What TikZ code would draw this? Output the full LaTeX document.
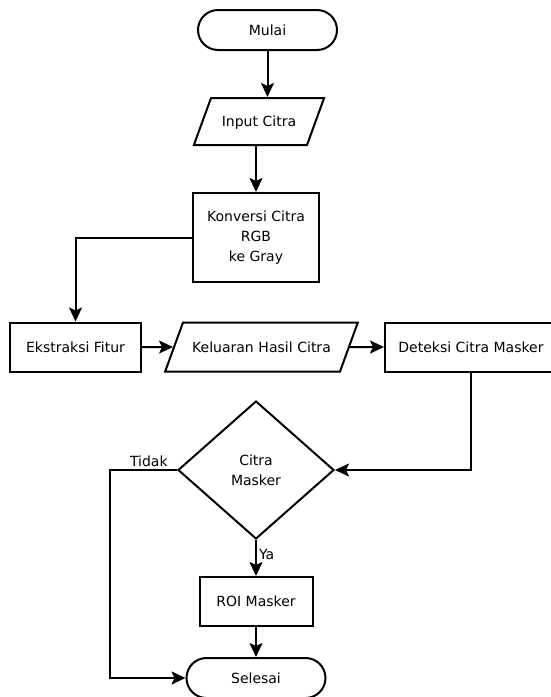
\documentclass[tikz,border=0pt]{standalone}
\usepackage{fontspec}
\setmainfont{DejaVu Sans}
\usetikzlibrary{shapes.geometric,shapes.misc,arrows.meta}

\begin{document}
\begin{tikzpicture}[
		x=1pt, y=-1pt,
		every node/.style={
			align=center,
			font=\fontsize{14}{20}\selectfont
		},
		terminal/.style={draw, line width=2pt, rounded rectangle, minimum width=139pt, minimum height=40pt, inner sep=0pt},
		process/.style={draw, line width=2pt, rectangle, minimum height=49pt, inner sep=0pt},
		inout/.style={
			draw, line width=2pt, trapezium,
			trapezium left angle=70, trapezium right angle=110,
			text height=10.5pt, text depth=0pt,
			inner xsep=0pt, inner ysep=18.25pt
		},
		decision/.style={draw, line width=2pt, diamond, minimum width=156pt, minimum height=138pt, inner sep=0pt},
		flow/.style={draw, line width=2pt, -{Stealth[length=14pt,width=13pt,inset=3pt]}},
		branch/.style={inner sep=2pt}
		]
		\useasboundingbox (0,0) rectangle (550,697);
		
		\node[terminal] (mulai) at (267.5,30) {Mulai};
		\node[inout, text width=96pt] (input) at (259,121.5) {Input Citra};
		\node[process, minimum width=126pt, minimum height=89pt] (konversi) at (256,237.5) {Konversi Citra\\RGB\\ke Gray};
		\node[process, minimum width=131pt] (ekstraksi) at (75.5,347) {Ekstraksi Fitur};
		\node[inout, text width=157pt, inner ysep=19.25pt] (keluaran) at (261.5,347) {Keluaran Hasil Citra};
		\node[process, minimum width=172pt] (deteksi) at (471,347) {Deteksi Citra Masker};
		\node[decision] (masker) at (256,470) {Citra\\Masker};
		\node[process, minimum width=113pt] (roi) at (256,601.5) {ROI Masker};
		\node[terminal] (selesai) at (256,678) {Selesai};
		\coordinate (belok) at (110,470);
		
		\draw[flow] (mulai.south) -- (mulai.south |- input.north);
		\draw[flow] (input.south -| konversi.north) -- (konversi.north);
		\draw[flow] (konversi.west) -| (ekstraksi.north);
		\draw[flow] (ekstraksi.east) -- (keluaran.west);
		\draw[flow] (keluaran.east) -- (deteksi.west);
		\draw[flow] (deteksi.south) |- (masker.east);
		\draw[flow] (masker.south) -- node[branch, pos=0.4, right] (ya) {Ya} (roi.north);
		\draw[flow] (roi.south) -- (selesai.north);
		\draw[flow] (masker.west) -- node[branch, pos=0.42, above] (tidak) {Tidak} (belok) |- (selesai.west);
	\end{tikzpicture}
\end{document}
